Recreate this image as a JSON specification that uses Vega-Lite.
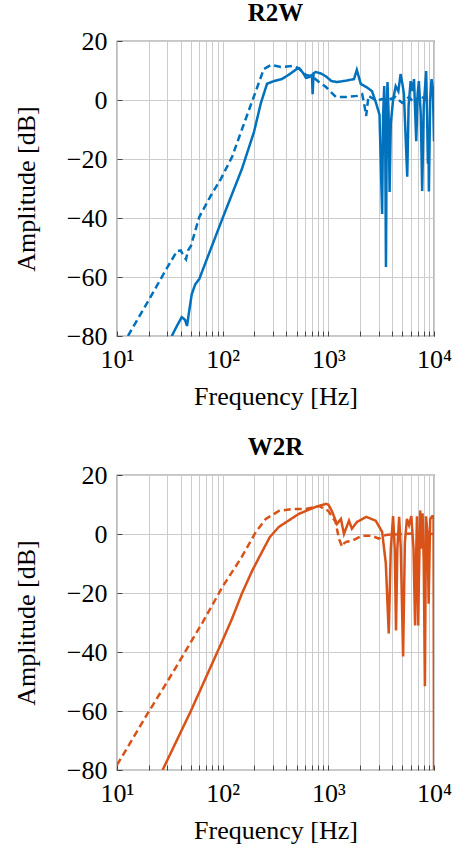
{
  "$schema": "https://vega.github.io/schema/vega-lite/v6.json",
  "padding": {"left": 12, "top": 0, "right": 20, "bottom": 4},
  "spacing": 24,
  "config": {
    "font": "Liberation Serif, DejaVu Serif, serif",
    "view": {"stroke": "#222222", "strokeWidth": 1.2},
    "axis": {
      "domain": false,
      "grid": true,
      "gridColor": "#cccccc",
      "gridWidth": 1,
      "tickColor": "#444444",
      "tickSize": -5,
      "labelPadding": 15,
      "labelFont": "Liberation Serif, DejaVu Serif, serif",
      "labelFontSize": 26,
      "labelColor": "#000000",
      "labelFlush": false,
      "titleFont": "Liberation Serif, DejaVu Serif, serif",
      "titleFontSize": 26,
      "titleFontWeight": "normal",
      "titleColor": "#000000",
      "labelOverlap": false
    },
    "title": {"font": "Liberation Serif, DejaVu Serif, serif", "fontSize": 25, "fontWeight": "bold", "color": "#000000", "offset": 2}
  },
  "datasets": {
    "r2w": [
      {"f": 33, "db": -80, "type": "solid"},
      {"f": 37, "db": -76.5, "type": "solid"},
      {"f": 41, "db": -73.6, "type": "solid"},
      {"f": 44, "db": -74.5, "type": "solid"},
      {"f": 46, "db": -76.6, "type": "solid"},
      {"f": 48, "db": -72, "type": "solid"},
      {"f": 51, "db": -65.8, "type": "solid"},
      {"f": 55, "db": -62.5, "type": "solid"},
      {"f": 60, "db": -60.7, "type": "solid"},
      {"f": 100, "db": -40, "type": "solid"},
      {"f": 152, "db": -23.4, "type": "solid"},
      {"f": 198, "db": -10.8, "type": "solid"},
      {"f": 230, "db": -1, "type": "solid"},
      {"f": 263, "db": 5.5, "type": "solid"},
      {"f": 300, "db": 6.3, "type": "solid"},
      {"f": 363, "db": 7.1, "type": "solid"},
      {"f": 420, "db": 8.5, "type": "solid"},
      {"f": 502, "db": 10.5, "type": "solid"},
      {"f": 530, "db": 10.8, "type": "solid"},
      {"f": 580, "db": 9, "type": "solid"},
      {"f": 614, "db": 7.5, "type": "solid"},
      {"f": 660, "db": 7.8, "type": "solid"},
      {"f": 700, "db": 8.5, "type": "solid"},
      {"f": 710, "db": 2, "type": "solid"},
      {"f": 725, "db": 9, "type": "solid"},
      {"f": 760, "db": 9.5, "type": "solid"},
      {"f": 850, "db": 9, "type": "solid"},
      {"f": 950, "db": 8, "type": "solid"},
      {"f": 1070, "db": 6.4, "type": "solid"},
      {"f": 1210, "db": 6.1, "type": "solid"},
      {"f": 1500, "db": 6.6, "type": "solid"},
      {"f": 1750, "db": 7.1, "type": "solid"},
      {"f": 1860, "db": 10.2, "type": "solid"},
      {"f": 2030, "db": 5.4, "type": "solid"},
      {"f": 2290, "db": 4.4, "type": "solid"},
      {"f": 2590, "db": 3, "type": "solid"},
      {"f": 2810, "db": -0.7, "type": "solid"},
      {"f": 3050, "db": -5, "type": "solid"},
      {"f": 3230, "db": -38.6, "type": "solid"},
      {"f": 3300, "db": -5, "type": "solid"},
      {"f": 3380, "db": 4.7, "type": "solid"},
      {"f": 3450, "db": -10, "type": "solid"},
      {"f": 3510, "db": -56.6, "type": "solid"},
      {"f": 3580, "db": -3, "type": "solid"},
      {"f": 3630, "db": 6.1, "type": "solid"},
      {"f": 3720, "db": -5, "type": "solid"},
      {"f": 3800, "db": -31.2, "type": "solid"},
      {"f": 3900, "db": -8, "type": "solid"},
      {"f": 4100, "db": 0, "type": "solid"},
      {"f": 4340, "db": 4.7, "type": "solid"},
      {"f": 4600, "db": 3, "type": "solid"},
      {"f": 4830, "db": 8.8, "type": "solid"},
      {"f": 5050, "db": 5, "type": "solid"},
      {"f": 5190, "db": 2, "type": "solid"},
      {"f": 5580, "db": -26, "type": "solid"},
      {"f": 5750, "db": -2, "type": "solid"},
      {"f": 6010, "db": 6.4, "type": "solid"},
      {"f": 6250, "db": 3, "type": "solid"},
      {"f": 6470, "db": 7.1, "type": "solid"},
      {"f": 6790, "db": -14, "type": "solid"},
      {"f": 7000, "db": 2, "type": "solid"},
      {"f": 7190, "db": 6.4, "type": "solid"},
      {"f": 7500, "db": -5, "type": "solid"},
      {"f": 7730, "db": -30.8, "type": "solid"},
      {"f": 8000, "db": -2, "type": "solid"},
      {"f": 8430, "db": 9.8, "type": "solid"},
      {"f": 8600, "db": -5, "type": "solid"},
      {"f": 8750, "db": -21.6, "type": "solid"},
      {"f": 8850, "db": -10, "type": "solid"},
      {"f": 8950, "db": -31, "type": "solid"},
      {"f": 9200, "db": 0, "type": "solid"},
      {"f": 9480, "db": 7.1, "type": "solid"},
      {"f": 9750, "db": 4, "type": "solid"},
      {"f": 10000, "db": -14, "type": "solid"},
      {"f": 12.7, "db": -80, "type": "dashed"},
      {"f": 20, "db": -67.8, "type": "dashed"},
      {"f": 29, "db": -57.6, "type": "dashed"},
      {"f": 37, "db": -51.2, "type": "dashed"},
      {"f": 40, "db": -51, "type": "dashed"},
      {"f": 43, "db": -53, "type": "dashed"},
      {"f": 45, "db": -54, "type": "dashed"},
      {"f": 47, "db": -51, "type": "dashed"},
      {"f": 50, "db": -49.5, "type": "dashed"},
      {"f": 60, "db": -39.7, "type": "dashed"},
      {"f": 77, "db": -32.5, "type": "dashed"},
      {"f": 96, "db": -26.8, "type": "dashed"},
      {"f": 123, "db": -19.2, "type": "dashed"},
      {"f": 152, "db": -10, "type": "dashed"},
      {"f": 206, "db": 3, "type": "dashed"},
      {"f": 245, "db": 10.5, "type": "dashed"},
      {"f": 287, "db": 11.9, "type": "dashed"},
      {"f": 355, "db": 11.2, "type": "dashed"},
      {"f": 455, "db": 11.5, "type": "dashed"},
      {"f": 525, "db": 10.8, "type": "dashed"},
      {"f": 614, "db": 8.5, "type": "dashed"},
      {"f": 705, "db": 8, "type": "dashed"},
      {"f": 820, "db": 6, "type": "dashed"},
      {"f": 950, "db": 4.4, "type": "dashed"},
      {"f": 1180, "db": 1, "type": "dashed"},
      {"f": 1470, "db": 1, "type": "dashed"},
      {"f": 1860, "db": 1.4, "type": "dashed"},
      {"f": 2090, "db": 2, "type": "dashed"},
      {"f": 2200, "db": -2, "type": "dashed"},
      {"f": 2280, "db": -5.4, "type": "dashed"},
      {"f": 2400, "db": 1.4, "type": "dashed"},
      {"f": 2880, "db": -0.3, "type": "dashed"},
      {"f": 3200, "db": 0.3, "type": "dashed"},
      {"f": 3700, "db": 0, "type": "dashed"},
      {"f": 4300, "db": 1, "type": "dashed"},
      {"f": 5000, "db": -1, "type": "dashed"},
      {"f": 5800, "db": 1, "type": "dashed"},
      {"f": 6500, "db": -1, "type": "dashed"},
      {"f": 7300, "db": 1.5, "type": "dashed"},
      {"f": 8500, "db": 0, "type": "dashed"},
      {"f": 10000, "db": 0.5, "type": "dashed"}
    ],
    "w2r": [
      {"f": 27, "db": -80, "type": "solid"},
      {"f": 50, "db": -60, "type": "solid"},
      {"f": 100, "db": -36, "type": "solid"},
      {"f": 123, "db": -28.6, "type": "solid"},
      {"f": 152, "db": -20.2, "type": "solid"},
      {"f": 190, "db": -12.5, "type": "solid"},
      {"f": 236, "db": -6, "type": "solid"},
      {"f": 280, "db": -1, "type": "solid"},
      {"f": 340, "db": 2.4, "type": "solid"},
      {"f": 525, "db": 6.8, "type": "solid"},
      {"f": 760, "db": 9.2, "type": "solid"},
      {"f": 950, "db": 10.2, "type": "solid"},
      {"f": 1000, "db": 10, "type": "solid"},
      {"f": 1080, "db": 7.8, "type": "solid"},
      {"f": 1206, "db": 3.4, "type": "solid"},
      {"f": 1316, "db": 5.1, "type": "solid"},
      {"f": 1406, "db": 0, "type": "solid"},
      {"f": 1567, "db": 4.5, "type": "solid"},
      {"f": 1672, "db": 1.8, "type": "solid"},
      {"f": 1866, "db": 4.1, "type": "solid"},
      {"f": 2290, "db": 5.8, "type": "solid"},
      {"f": 2810, "db": 4.5, "type": "solid"},
      {"f": 3230, "db": 0.7, "type": "solid"},
      {"f": 3500, "db": -10, "type": "solid"},
      {"f": 3730, "db": -33.7, "type": "solid"},
      {"f": 3900, "db": -5, "type": "solid"},
      {"f": 4100, "db": 6.1, "type": "solid"},
      {"f": 4250, "db": -5, "type": "solid"},
      {"f": 4370, "db": -32.7, "type": "solid"},
      {"f": 4500, "db": -5, "type": "solid"},
      {"f": 4680, "db": 5.8, "type": "solid"},
      {"f": 4850, "db": -5, "type": "solid"},
      {"f": 5100, "db": -41.5, "type": "solid"},
      {"f": 5300, "db": -3, "type": "solid"},
      {"f": 5540, "db": 5.1, "type": "solid"},
      {"f": 5800, "db": 3, "type": "solid"},
      {"f": 6100, "db": 6.1, "type": "solid"},
      {"f": 6400, "db": -5, "type": "solid"},
      {"f": 6620, "db": -31, "type": "solid"},
      {"f": 6800, "db": -5, "type": "solid"},
      {"f": 6900, "db": 6, "type": "solid"},
      {"f": 7000, "db": -10, "type": "solid"},
      {"f": 7090, "db": -31, "type": "solid"},
      {"f": 7200, "db": -15, "type": "solid"},
      {"f": 7400, "db": 8, "type": "solid"},
      {"f": 7600, "db": -5, "type": "solid"},
      {"f": 7800, "db": 7, "type": "solid"},
      {"f": 8000, "db": -10, "type": "solid"},
      {"f": 8200, "db": -51.6, "type": "solid"},
      {"f": 8400, "db": 6, "type": "solid"},
      {"f": 8700, "db": 0, "type": "solid"},
      {"f": 8900, "db": -23.6, "type": "solid"},
      {"f": 9200, "db": 5, "type": "solid"},
      {"f": 9600, "db": 6, "type": "solid"},
      {"f": 9900, "db": 6, "type": "solid"},
      {"f": 10000, "db": -80, "type": "solid"},
      {"f": 10, "db": -78.3, "type": "dashed"},
      {"f": 20, "db": -60.2, "type": "dashed"},
      {"f": 30, "db": -50, "type": "dashed"},
      {"f": 65, "db": -29.8, "type": "dashed"},
      {"f": 100, "db": -17.8, "type": "dashed"},
      {"f": 152, "db": -7.7, "type": "dashed"},
      {"f": 206, "db": 0.7, "type": "dashed"},
      {"f": 256, "db": 5.1, "type": "dashed"},
      {"f": 340, "db": 7.8, "type": "dashed"},
      {"f": 455, "db": 8.5, "type": "dashed"},
      {"f": 614, "db": 8.5, "type": "dashed"},
      {"f": 815, "db": 9.5, "type": "dashed"},
      {"f": 1000, "db": 7.8, "type": "dashed"},
      {"f": 1170, "db": 4.1, "type": "dashed"},
      {"f": 1260, "db": -1.6, "type": "dashed"},
      {"f": 1350, "db": -4.3, "type": "dashed"},
      {"f": 1420, "db": -3, "type": "dashed"},
      {"f": 1500, "db": -2.6, "type": "dashed"},
      {"f": 1670, "db": -2.3, "type": "dashed"},
      {"f": 2090, "db": -0.6, "type": "dashed"},
      {"f": 2590, "db": -0.6, "type": "dashed"},
      {"f": 3000, "db": -1.6, "type": "dashed"},
      {"f": 3500, "db": -0.3, "type": "dashed"},
      {"f": 5000, "db": 0, "type": "dashed"},
      {"f": 7000, "db": 0.2, "type": "dashed"},
      {"f": 10000, "db": 0, "type": "dashed"}
    ]
  },
  "vconcat": [
    {
      "title": "R2W",
      "width": 317,
      "height": 295,
      "data": {"name": "r2w"},
      "mark": {"type": "line", "color": "#0072BD", "strokeWidth": 2.5, "clip": true},
      "encoding": {
        "x": {
          "field": "f", "type": "quantitative",
          "scale": {"type": "log", "domain": [10, 10000]},
          "axis": {
            "title": "Frequency [Hz]",
            "values": [10, 20, 30, 40, 50, 60, 70, 80, 90, 100, 200, 300, 400, 500, 600, 700, 800, 900, 1000, 2000, 3000, 4000, 5000, 6000, 7000, 8000, 9000, 10000],
            "labelExpr": "datum.value == 10 ? '10¹' : datum.value == 100 ? '10²' : datum.value == 1000 ? '10³' : datum.value == 10000 ? '10⁴' : ''",
            "titlePadding": 11
          }
        },
        "y": {
          "field": "db", "type": "quantitative",
          "scale": {"domain": [-80, 20]},
          "axis": {"title": "Amplitude [dB]", "values": [-80, -60, -40, -20, 0, 20], "titlePadding": 27}
        },
        "strokeDash": {
          "field": "type", "type": "nominal",
          "scale": {"domain": ["solid", "dashed"], "range": [[1, 0], [7, 4]]},
          "legend": null
        }
      }
    },
    {
      "title": "W2R",
      "width": 317,
      "height": 295,
      "data": {"name": "w2r"},
      "mark": {"type": "line", "color": "#D95319", "strokeWidth": 2.5, "clip": true},
      "encoding": {
        "x": {
          "field": "f", "type": "quantitative",
          "scale": {"type": "log", "domain": [10, 10000]},
          "axis": {
            "title": "Frequency [Hz]",
            "values": [10, 20, 30, 40, 50, 60, 70, 80, 90, 100, 200, 300, 400, 500, 600, 700, 800, 900, 1000, 2000, 3000, 4000, 5000, 6000, 7000, 8000, 9000, 10000],
            "labelExpr": "datum.value == 10 ? '10¹' : datum.value == 100 ? '10²' : datum.value == 1000 ? '10³' : datum.value == 10000 ? '10⁴' : ''",
            "titlePadding": 11
          }
        },
        "y": {
          "field": "db", "type": "quantitative",
          "scale": {"domain": [-80, 20]},
          "axis": {"title": "Amplitude [dB]", "values": [-80, -60, -40, -20, 0, 20], "titlePadding": 27}
        },
        "strokeDash": {
          "field": "type", "type": "nominal",
          "scale": {"domain": ["solid", "dashed"], "range": [[1, 0], [7, 4]]},
          "legend": null
        }
      }
    }
  ]
}
